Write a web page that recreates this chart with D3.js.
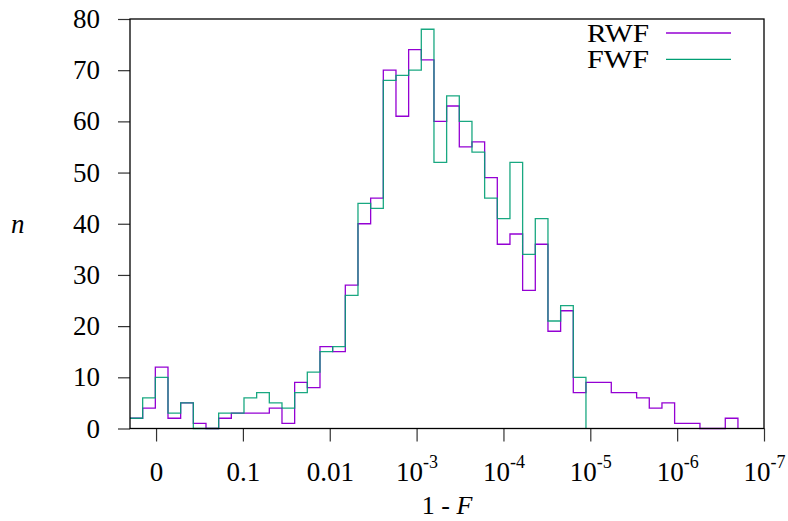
<!DOCTYPE html>
<html>
<head>
<meta charset="utf-8">
<script src="https://cdn.jsdelivr.net/npm/d3@7"></script>
<style>
  body { margin: 0; background: #fff; }
  svg { display: block; }
  text { font-family: "Liberation Serif", "DejaVu Serif", serif; fill: #000; }
</style>
</head>
<body>
<div id="chart"></div>
<script>
// histogram counts per bin, bins run from -0.3 to 6.7 on the decade axis (48 bins)
var binStart = -0.3, binCount = 48, binEnd = 6.7;
var rwf = [2, 4, 12, 2, 5, 1, 0, 2, 3, 3, 3, 4, 1, 9, 8, 16, 15, 28, 40, 45, 70, 61, 74, 72,
           60, 63, 55, 56, 49, 36, 38, 27, 36, 19, 23, 7, 9, 9, 7, 7, 6, 4, 5, 1, 1, 0, 0, 2];
var fwf = [2, 6, 10, 3, 5, 0, 0, 3, 3, 6, 7, 5, 4, 7, 11, 15, 16, 26, 44, 43, 68, 69, 70, 78,
           52, 65, 60, 54, 45, 41, 52, 34, 41, 21, 24, 10];

var seriesNames = ["RWF", "FWF"];
var seriesColors = ["#9400d3", "#009e73"];

var xTickValues = [0, 1, 2, 3, 4, 5, 6, 7];
var xTickBase = ["0", "0.1", "0.01", "10", "10", "10", "10", "10"];
var xTickExp = ["", "", "", "-3", "-4", "-5", "-6", "-7"];
var yTickValues = [0, 10, 20, 30, 40, 50, 60, 70, 80];

var width = 788, height = 521;
var margin = { left: 130, right: 24, top: 19, bottom: 93 };

var svg = d3.select("#chart").append("svg")
    .attr("width", width)
    .attr("height", height);

var x = d3.scaleLinear().domain([-0.3, 7]).range([margin.left, width - margin.right]);
var y = d3.scaleLinear().domain([0, 80]).range([height - margin.bottom + 0.5, margin.top]);

var binWidth = (binEnd - binStart) / binCount;

// step outline like gnuplot "histeps"
function stepPath(values) {
    var pts = [];
    values.forEach(function(v, i) {
        var x0 = binStart + i * binWidth, x1 = x0 + binWidth;
        pts.push([x0, v]);
        pts.push([x1, v]);
    });
    pts.push([binStart + values.length * binWidth, 0]);
    return d3.line()
        .x(function(p) { return x(p[0]); })
        .y(function(p) { return y(p[1]); })(pts);
}

// axes
var xAxis = svg.append("g")
    .attr("transform", "translate(0," + y(0) + ")")
    .call(d3.axisBottom(x).tickValues(xTickValues).tickSize(13).tickFormat(""));
xAxis.select(".domain").remove();
xAxis.selectAll(".tick line").attr("stroke", "#333").attr("stroke-width", 1.2);

xAxis.selectAll(".tick").each(function(d, i) {
    var t = d3.select(this).append("text")
        .attr("y", 52.5)
        .attr("text-anchor", "middle")
        .style("font-size", "27px")
        .text(xTickBase[i]);
    if (xTickExp[i]) {
        t.append("tspan")
            .attr("dy", -13)
            .style("font-size", "18px")
            .text(xTickExp[i]);
    }
});

var yAxis = svg.append("g")
    .attr("transform", "translate(" + x(-0.3) + ",0)")
    .call(d3.axisLeft(y).tickValues(yTickValues).tickSize(12).tickFormat(""));
yAxis.select(".domain").remove();
yAxis.selectAll(".tick line").attr("stroke", "#333").attr("stroke-width", 1.2);
yAxis.selectAll(".tick").append("text")
    .attr("x", -30)
    .attr("y", 8.5)
    .attr("text-anchor", "end")
    .style("font-size", "27px")
    .text(function(d) { return d; });

// histogram lines
svg.append("path")
    .attr("d", stepPath(rwf))
    .attr("fill", "none")
    .attr("stroke", seriesColors[0])
    .attr("stroke-width", 1.3);
svg.append("path")
    .attr("d", stepPath(fwf))
    .attr("fill", "none")
    .attr("stroke", seriesColors[1])
    .attr("stroke-opacity", 0.9)
    .attr("stroke-width", 1.3);

// frame
svg.append("rect")
    .attr("x", x(-0.3))
    .attr("y", y(80))
    .attr("width", x(7) - x(-0.3))
    .attr("height", y(0) - y(80))
    .attr("fill", "none")
    .attr("stroke", "#000")
    .attr("stroke-width", 1.3);

// axis titles
svg.append("text")
    .attr("x", 11)
    .attr("y", 233)
    .style("font-size", "27px")
    .style("font-style", "italic")
    .text("n");

var xTitle = svg.append("text")
    .attr("x", (x(-0.3) + x(7)) / 2)
    .attr("y", 514)
    .attr("text-anchor", "middle")
    .style("font-size", "26px")
    .text("1 - ");
xTitle.append("tspan").style("font-style", "italic").text("F");

// legend
var legend = svg.append("g");
seriesNames.forEach(function(name, i) {
    var ly = 33 + i * 26.3;
    legend.append("text")
        .attr("x", 649)
        .attr("y", ly + 8.5)
        .attr("text-anchor", "end")
        .attr("textLength", 62)
        .attr("lengthAdjust", "spacingAndGlyphs")
        .style("font-size", "25px")
        .text(name);
    legend.append("line")
        .attr("x1", 666).attr("x2", 731)
        .attr("y1", ly).attr("y2", ly)
        .attr("stroke", seriesColors[i])
        .attr("stroke-width", 1.3);
});
</script>
</body>
</html>
